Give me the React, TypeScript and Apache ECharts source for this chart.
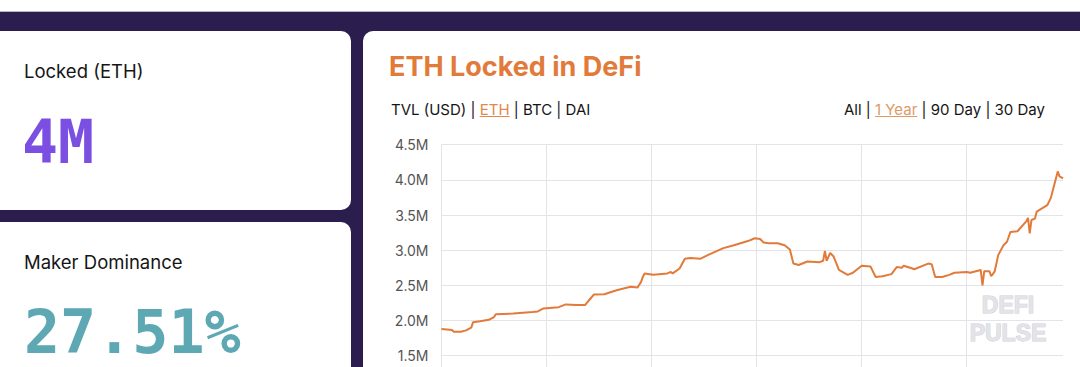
import React, { useEffect, useRef } from "react";
import * as echarts from "echarts";

// Day index within the 1-year window (0 = first day shown)
const days = [
  0, 6, 7, 11, 14, 17, 18, 22, 27, 30,
  31, 41, 52, 55, 58, 67, 71, 77, 82, 83,
  85, 87, 93, 100, 108, 112, 114, 115, 116, 121,
  129, 131, 132, 136, 139, 142, 148, 153, 161, 167,
  175, 179, 182, 184, 187, 192, 196, 199, 201, 204,
  209, 216, 218, 219, 220, 222, 224, 227, 232, 235,
  240, 245, 248, 252, 257, 260, 263, 264, 269, 270,
  278, 280, 282, 286, 290, 293, 300, 302, 308, 309,
  310, 313, 314, 316, 318, 321, 323, 325, 329, 334,
  335, 336, 337, 339, 340, 346, 348, 352, 353, 355,
];

// ETH locked in DeFi, millions of ETH
const ethLocked = [
  1.88, 1.865, 1.84, 1.84, 1.86, 1.9, 1.975, 1.99, 2.01, 2.05,
  2.09, 2.1, 2.12, 2.13, 2.17, 2.19, 2.23, 2.22, 2.22, 2.25,
  2.31, 2.37, 2.375, 2.43, 2.48, 2.47, 2.55, 2.62, 2.67, 2.65,
  2.67, 2.69, 2.67, 2.74, 2.88, 2.89, 2.88, 2.94, 3.03, 3.07,
  3.13, 3.17, 3.16, 3.11, 3.1, 3.1, 3.07, 3.01, 2.81, 2.79,
  2.84, 2.83, 2.85, 2.99, 2.85, 2.96, 2.91, 2.72, 2.65, 2.68,
  2.78, 2.77, 2.62, 2.63, 2.66, 2.76, 2.75, 2.78, 2.74, 2.73,
  2.81, 2.8, 2.62, 2.62, 2.65, 2.68, 2.69, 2.68, 2.72, 2.5,
  2.7, 2.7, 2.63, 2.7, 2.93, 3.07, 3.12, 3.26, 3.27, 3.41,
  3.46, 3.24, 3.43, 3.45, 3.55, 3.64, 3.74, 4.12, 4.05, 4.02,
];

const yMin = 1.0;
const yMax = 4.5;
const yStep = 0.5;
const xMax = 355;
const xStep = 60;

const cardStats = [
  { label: "Locked (ETH)", value: "4M", color: "#7a4fe2" },
  { label: "Maker Dominance", value: "27.51%", color: "#5ea8b3" },
];
const chartTitle = "ETH Locked in DeFi";
const unitTabs = ["TVL (USD)", "ETH", "BTC", "DAI"];
const activeUnit = "ETH";
const rangeTabs = ["All", "1 Year", "90 Day", "30 Day"];
const activeRange = "1 Year";
const watermark = ["DEFI", "PULSE"];

const SANS = "Inter, 'Noto Sans', sans-serif";
const MONO = "'DejaVu Sans Mono', monospace";

const ctx = document.createElement("canvas").getContext("2d")!;
function measure(text: string, font: string) {
  ctx.font = font;
  return ctx.measureText(text).width;
}

function tabGraphics(
  tabs: string[],
  active: string,
  x0: number,
  align: "left" | "right",
  y: number,
  font: string,
  activeColor: string
) {
  const sep = " | ";
  const pieces: { t: string; active: boolean }[] = [];
  tabs.forEach((t, i) => {
    if (i > 0) pieces.push({ t: sep, active: false });
    pieces.push({ t, active: t === active });
  });
  const total = pieces.reduce((s, p) => s + measure(p.t, font), 0);
  let x = align === "left" ? x0 : x0 - total;
  const out: any[] = [];
  pieces.forEach((p) => {
    const w = measure(p.t, font);
    out.push({
      type: "text",
      z: 10,
      style: {
        text: p.t,
        x,
        y,
        font,
        fill: p.active ? activeColor : "#151515",
        textAlign: "left",
        textVerticalAlign: "middle",
      },
    });
    if (p.active) {
      out.push({
        type: "line",
        z: 10,
        shape: { x1: x, y1: y + 7, x2: x + w, y2: y + 7 },
        style: { stroke: activeColor, lineWidth: 1 },
      });
    }
    x += w;
  });
  return out;
}

export default function App() {
  const ref = useRef<HTMLDivElement>(null);
  useEffect(() => {
    if (!ref.current) return;
    const chart = echarts.init(ref.current, undefined, { renderer: "svg" });
    const navFont = `15px ${SANS}`;
    const labelFont = `18.5px ${SANS}`;
    const graphic: any[] = [
      // cards
      { type: "rect", z: -10, shape: { x: -20, y: 31, width: 371, height: 179, r: 10 }, style: { fill: "#ffffff" } },
      { type: "rect", z: -10, shape: { x: -20, y: 222, width: 371, height: 220, r: 10 }, style: { fill: "#ffffff" } },
      { type: "rect", z: -10, shape: { x: 363, y: 31, width: 760, height: 420, r: 10 }, style: { fill: "#ffffff" } },
      // top page strip
      { type: "rect", z: 100, shape: { x: 0, y: 0, width: 1080, height: 11.5 }, style: { fill: "#ffffff", stroke: "#b9b6c4", lineWidth: 1 } },
      // card texts
      { type: "text", z: 10, style: { text: cardStats[0].label, x: 24, y: 70.5, font: labelFont, fill: "#151515", textVerticalAlign: "middle" } },
      { type: "text", z: 10, style: { text: cardStats[0].value, x: 22, y: 141.5, font: `bold 60px ${MONO}`, fill: cardStats[0].color, textVerticalAlign: "middle" } },
      { type: "text", z: 10, style: { text: cardStats[1].label, x: 24, y: 262, font: labelFont, fill: "#151515", textVerticalAlign: "middle" } },
      { type: "text", z: 10, style: { text: cardStats[1].value, x: 24, y: 331.5, font: `bold 60px ${MONO}`, fill: cardStats[1].color, textVerticalAlign: "middle" } },
      // chart title
      { type: "text", z: 10, style: { text: chartTitle, x: 389, y: 66.5, font: `bold 27px ${SANS}`, fill: "#e27a3a", textVerticalAlign: "middle" } },
      ...tabGraphics(unitTabs, activeUnit, 391, "left", 109.5, navFont, "#e2884a"),
      ...tabGraphics(rangeTabs, activeRange, 1045, "right", 109.5, navFont, "#dd9a66"),
      // watermark
      { type: "text", z: 1, style: { text: watermark[0], x: 1008, y: 305, font: `bold 23px 'Liberation Sans', Arial, sans-serif`, fill: "#e4e4e8", stroke: "#d0d0d6", lineWidth: 1, textAlign: "center", textVerticalAlign: "middle" } },
      { type: "text", z: 1, style: { text: watermark[1], x: 1008, y: 333, font: `bold 23px 'Liberation Sans', Arial, sans-serif`, fill: "#e4e4e8", stroke: "#d0d0d6", lineWidth: 1, textAlign: "center", textVerticalAlign: "middle" } },
    ];

    chart.setOption({
      animation: false,
      backgroundColor: "#2b1d4e",
      grid: { left: 441.5, top: 144.7, width: 621.5, height: 246.2, containLabel: false },
      xAxis: {
        type: "value",
        min: 0,
        max: xMax,
        interval: xStep,
        axisLine: { show: false },
        axisTick: { show: false },
        axisLabel: { show: false },
        splitLine: { show: true, showMaxLine: false, lineStyle: { color: "#e3e3e8", width: 1 } },
      },
      yAxis: {
        type: "value",
        min: yMin,
        max: yMax,
        interval: yStep,
        axisLine: { show: false },
        axisTick: { show: false },
        axisLabel: {
          showMinLabel: false,
          formatter: (v: number) => v.toFixed(1) + "M",
          color: "#555555",
          fontSize: 14,
          fontFamily: SANS,
          margin: 13,
        },
        splitLine: { show: true, lineStyle: { color: "#e3e3e8", width: 1 } },
      },
      series: [
        {
          type: "line",
          data: days.map((d, i) => [d, ethLocked[i]]),
          showSymbol: false,
          symbol: "none",
          lineStyle: { color: "#e27a3a", width: 2 },
          z: 5,
        },
      ],
      graphic,
    });
    return () => chart.dispose();
  }, []);
  return (
    <>
      <div
        ref={ref}
        style={{ position: "fixed", left: 0, top: 0, width: 1080, height: 420 }}
      />
      <div
        style={{
          position: "fixed",
          left: 0,
          top: 0,
          width: 1080,
          height: 11,
          background: "#ffffff",
          borderBottom: "1px solid #b9b6c4",
          zIndex: 5,
        }}
      />
    </>
  );
}
